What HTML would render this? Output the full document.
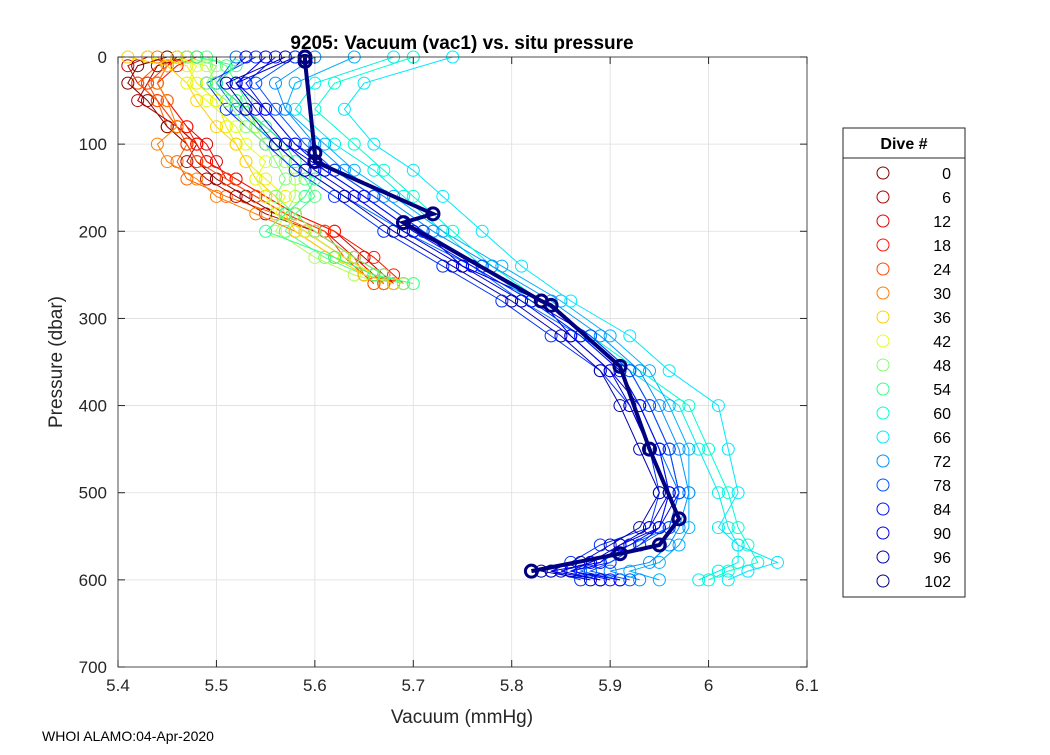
<!DOCTYPE html>
<html><head><meta charset="utf-8"><style>
body{margin:0;background:#fff;width:1050px;height:750px;overflow:hidden;font-family:"Liberation Sans",sans-serif}
</style></head><body>
<svg id="chart" width="1050" height="750" xmlns="http://www.w3.org/2000/svg" font-family="Liberation Sans, sans-serif">
<rect x="0" y="0" width="1050" height="750" fill="#fff"/>
<rect x="118" y="57" width="689" height="610" fill="#fff" stroke="none"/>
<g id="grid"></g>
<g id="series"></g>
<rect x="118" y="57" width="689" height="610" fill="none" stroke="#262626" stroke-width="0.8"/>
<g id="axes"></g>
<text x="462" y="49" text-anchor="middle" font-size="19" font-weight="bold" fill="#000">9205: Vacuum (vac1) vs. situ pressure</text>
<text x="462" y="723" text-anchor="middle" font-size="19" fill="#262626">Vacuum (mmHg)</text>
<text transform="translate(62,362) rotate(-90)" text-anchor="middle" font-size="19" fill="#262626">Pressure (dbar)</text>
<text x="42" y="741" font-size="14" fill="#000">WHOI ALAMO:04-Apr-2020</text>
<g id="legend"></g>
</svg>
<script>
const xTicks=[5.4,5.5,5.6,5.7,5.8,5.9,6,6.1];
const xTickLabels=["5.4","5.5","5.6","5.7","5.8","5.9","6","6.1"];
const yTicks=[0,100,200,300,400,500,600,700];
const diveNums=[0,6,12,18,24,30,36,42,48,54,60,66,72,78,84,90,96,102];
const diveColors=["#800000","#b00000","#e00000","#ff1400","#ff4800","#ff7c00","#ffd000","#e0ff20","#80ff70","#30ff90","#00ffd0","#00e8ff","#0090ff","#0050ff","#0010ff","#0000e0","#0000b0","#000080"];
const extraColors=["#c80000","#ff6000","#50ff80","#b0ff50","#f0f000","#0070ff","#0030ff","#0000f0","#0000c8","#00f0e8","#00b0ff"];
const pShallow=[0,10,30,50,80,100,120,140,160,180,200,230,250,260];
const pDeep=[0,30,60,100,130,160,200,240,280,320,360,400,450,500,540,560,580,590,600];
const v0=[5.45,5.42,5.41,5.43,5.45,5.47,5.48,5.50,5.53,5.56,5.59,5.63,5.66,5.67];
const v6=[5.47,5.44,5.43,5.42,5.46,5.48,5.47,5.49,5.52,5.55,5.60,5.64,5.67,5.68];
const v12=[5.46,5.45,5.44,5.45,5.47,5.49,5.50,5.51,5.54,5.57,5.61,5.64,5.66,5.67];
const v18=[5.48,5.46,5.44,5.45,5.47,5.48,5.49,5.52,5.55,5.58,5.62,5.66,5.68,5.69];
const v24=[5.47,5.45,5.43,5.44,5.46,5.47,5.48,5.51,5.54,5.57,5.61,5.63,5.65,5.66];
const v30=[5.44,5.45,5.44,5.45,5.46,5.44,5.45,5.48,5.50,5.54,5.58,5.62,5.66,5.67];
const v36=[5.41,5.45,5.47,5.48,5.50,5.52,5.53,5.54,5.56,5.57,5.58,5.62,5.65,5.68];
const v42=[5.46,5.48,5.47,5.49,5.52,5.53,5.55,5.54,5.55,5.56,5.59,5.63,5.66,5.70];
const v48=[5.47,5.50,5.49,5.51,5.53,5.55,5.56,5.57,5.56,5.58,5.60,5.64,5.67,5.69];
const v54=[5.48,5.52,5.50,5.52,5.55,5.57,5.58,5.60,5.59,5.57,5.55,5.62,5.66,5.70];
const v60=[5.70,5.62,5.60,5.64,5.67,5.70,5.74,5.78,5.83,5.88,5.93,5.98,6.00,6.02,6.03,6.04,6.05,6.02,6.00];
const v66=[5.74,5.65,5.63,5.66,5.70,5.73,5.77,5.81,5.86,5.92,5.96,6.01,6.02,6.03,6.01,6.03,6.07,6.04,6.02];
const v72=[5.60,5.56,5.57,5.60,5.63,5.67,5.72,5.78,5.84,5.89,5.93,5.95,5.97,5.98,5.97,5.96,5.94,5.90,5.93];
const v78=[5.58,5.54,5.56,5.59,5.62,5.66,5.71,5.77,5.83,5.88,5.92,5.94,5.96,5.97,5.96,5.93,5.90,5.88,5.92];
const v84=[5.56,5.53,5.55,5.58,5.61,5.65,5.70,5.76,5.82,5.87,5.91,5.93,5.95,5.96,5.95,5.92,5.88,5.86,5.90];
const v90=[5.55,5.52,5.54,5.57,5.60,5.64,5.69,5.75,5.81,5.86,5.90,5.92,5.94,5.96,5.94,5.91,5.89,5.84,5.89];
const v96=[5.57,5.51,5.53,5.56,5.59,5.63,5.68,5.74,5.80,5.85,5.89,5.91,5.93,5.95,5.93,5.90,5.87,5.83,5.88];
const p102=[0,5,110,120,180,190,280,285,355,450,530,560,570,590];
const v102=[5.59,5.59,5.60,5.60,5.72,5.69,5.83,5.84,5.91,5.94,5.97,5.95,5.91,5.82];
const e1=[5.43,5.41,5.42,5.44,5.46,5.48,5.49,5.52,5.55,5.58,5.62,5.65,5.67,5.68];
const e2=[5.46,5.44,5.42,5.44,5.45,5.47,5.46,5.47,5.51,5.56,5.60,5.64,5.65,5.66];
const e3=[5.49,5.51,5.52,5.53,5.54,5.56,5.57,5.59,5.60,5.58,5.57,5.61,5.65,5.69];
const e4=[5.45,5.49,5.50,5.52,5.54,5.55,5.57,5.58,5.58,5.57,5.56,5.60,5.64,5.67];
const e5=[5.43,5.47,5.48,5.50,5.51,5.52,5.53,5.55,5.57,5.56,5.59,5.63,5.66,5.69];
const e6=[5.52,5.50,5.52,5.56,5.59,5.63,5.69,5.76,5.81,5.87,5.91,5.93,5.95,5.97,5.96,5.92,5.89,5.87,5.91];
const e7=[5.54,5.49,5.51,5.55,5.58,5.62,5.67,5.73,5.79,5.84,5.89,5.92,5.94,5.95,5.94,5.89,5.86,5.84,5.87];
const e8=[5.53,5.50,5.53,5.57,5.61,5.65,5.70,5.77,5.82,5.88,5.92,5.94,5.96,5.97,5.95,5.93,5.90,5.86,5.91];
const e9=[5.58,5.52,5.55,5.58,5.62,5.66,5.71,5.75,5.83,5.86,5.90,5.93,5.95,5.96,5.95,5.91,5.88,5.85,5.89];
const e10=[5.68,5.60,5.58,5.62,5.66,5.69,5.73,5.77,5.82,5.87,5.92,5.97,5.99,6.01,6.02,6.03,6.03,6.01,5.99];
const e11=[5.64,5.58,5.57,5.61,5.64,5.68,5.73,5.79,5.85,5.90,5.94,5.96,5.98,5.98,5.98,5.97,5.95,5.92,5.95];
const extraValues=[e1,e2,e3,e4,e5,e6,e7,e8,e9,e10,e11];
const extraPressures=[pShallow,pShallow,pShallow,pShallow,pShallow,pDeep,pDeep,pDeep,pDeep,pDeep,pDeep];
const profileValues=[v0,v6,v12,v18,v24,v30,v36,v42,v48,v54,v60,v66,v72,v78,v84,v90,v96,v102];
const profilePressures=[pShallow,pShallow,pShallow,pShallow,pShallow,pShallow,pShallow,pShallow,pShallow,pShallow,pDeep,pDeep,pDeep,pDeep,pDeep,pDeep,pDeep,p102];

const NS="http://www.w3.org/2000/svg";
const X0=118,X1=807,Y0=57,Y1=667;
const xs=v=>X0+(v-5.4)/(0.7)*(X1-X0);
const ys=p=>Y0+p/700*(Y1-Y0);
function mk(t,a,parent){const e=document.createElementNS(NS,t);for(const k in a)e.setAttribute(k,a[k]);parent.appendChild(e);return e;}
const grid=document.getElementById('grid'),axes=document.getElementById('axes'),series=document.getElementById('series'),legend=document.getElementById('legend');
xTicks.forEach((t,i)=>{
  const x=xs(t);
  const g=mk('line',{x1:x,x2:x,y1:Y0,y2:Y1,stroke:'#dedede','stroke-width':0.8},grid);
  
  mk('line',{x1:x,x2:x,y1:Y1,y2:Y1-7,stroke:'#262626'},axes);
  mk('line',{x1:x,x2:x,y1:Y0,y2:Y0+7,stroke:'#262626'},axes);
  const l=mk('text',{x:x,y:Y1+24,'text-anchor':'middle','font-size':17,fill:'#262626'},axes);
  l.textContent=xTickLabels[i];
  
});
yTicks.forEach(t=>{
  const y=ys(t);
  const g=mk('line',{x1:X0,x2:X1,y1:y,y2:y,stroke:'#dedede','stroke-width':0.8},grid);
  
  mk('line',{x1:X0,x2:X0+7,y1:y,y2:y,stroke:'#262626'},axes);
  mk('line',{x1:X1,x2:X1-7,y1:y,y2:y,stroke:'#262626'},axes);
  const l=mk('text',{x:X0-11,y:y+6,'text-anchor':'end','font-size':17,fill:'#262626'},axes);
  l.textContent=String(t);
  
});
function drawProfile(vals,ps,color,thick,name){
  const g=mk('g',{},series);
  
  
  const pts=vals.map((v,j)=>xs(v)+','+ys(ps[j])).join(' ');
  mk('polyline',{points:pts,fill:'none',stroke:color,'stroke-width':thick?4:1},g);
  vals.forEach((v,j)=>{
    const c=mk('circle',{cx:xs(v),cy:ys(ps[j]),r:6,fill:'none',stroke:color,'stroke-width':thick?3:1},g);
    
    
  });
}
extraValues.forEach((vals,i)=>drawProfile(vals,extraPressures[i],extraColors[i],false,'extra-dive-profile'));
profileValues.forEach((vals,i)=>drawProfile(vals,profilePressures[i],diveColors[i],i===profileValues.length-1,'dive-'+diveNums[i]+'-profile'));
mk('rect',{x:843,y:128,width:122,height:469,fill:'#fff',stroke:'#262626','stroke-width':1},legend);
mk('line',{x1:843,x2:965,y1:158,y2:158,stroke:'#262626'},legend);
const lt=mk('text',{x:904,y:149,'text-anchor':'middle','font-size':16,'font-weight':'bold',fill:'#000'},legend);
lt.textContent='Dive #';

diveNums.forEach((d,i)=>{
  const y=173+i*24;
  const g=mk('g',{},legend);
  
  
  mk('circle',{cx:883,cy:y,r:6,fill:'none',stroke:diveColors[i]},g);
  const t=mk('text',{x:951,y:y+6,'text-anchor':'end','font-size':16,fill:'#000'},g);
  t.textContent=String(d);
});
</script>
</body></html>
